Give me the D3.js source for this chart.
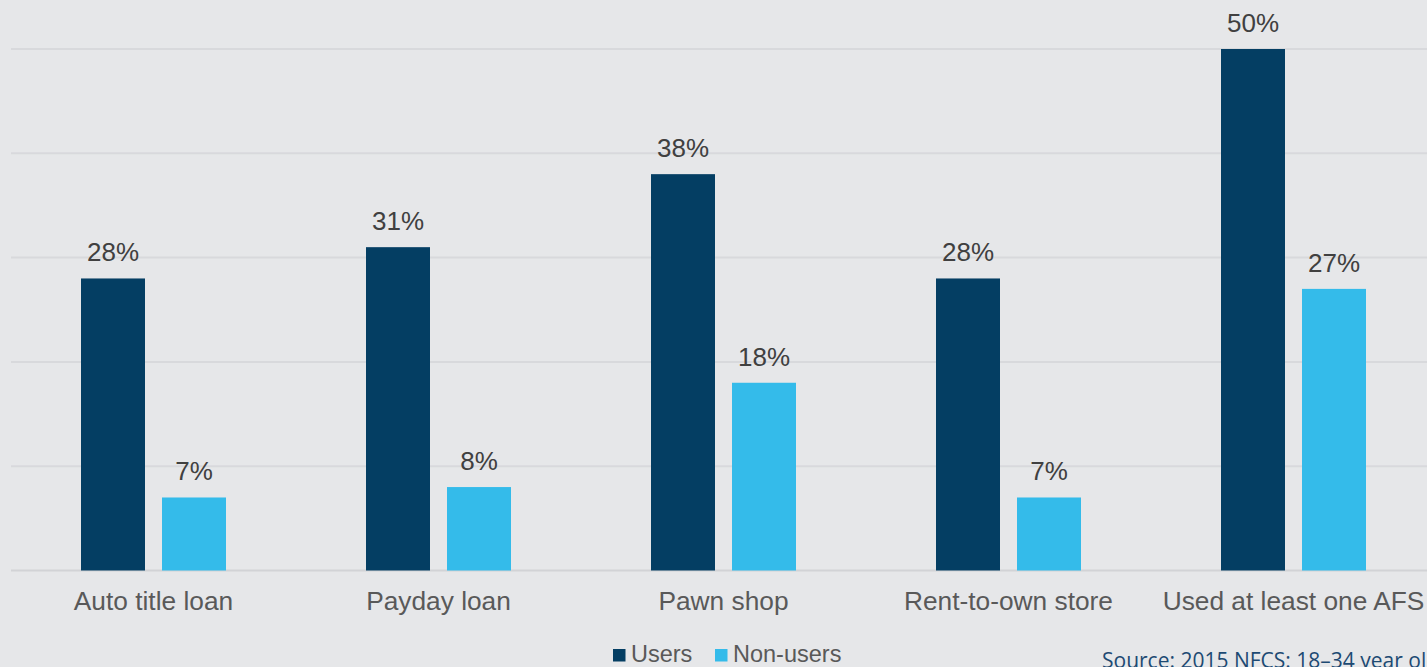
<!DOCTYPE html>
<html>
<head>
<meta charset="utf-8">
<script src="https://cdn.jsdelivr.net/npm/d3@7"></script>
<style>
  html, body { margin: 0; padding: 0; background: #e6e7e9; overflow: hidden; }
  svg { display: block; }
</style>
</head>
<body>
<svg id="chart" width="1427" height="667"></svg>
<script>
// Share of respondents by alternative financial service, users vs non-users
const categories = ["Auto title loan", "Payday loan", "Pawn shop", "Rent-to-own store", "Used at least one AFS"];
const seriesNames = ["Users", "Non-users"];
const usersValues = [28, 31, 38, 28, 50];
const nonUsersValues = [7, 8, 18, 7, 27];
const gridTicks = [0, 10, 20, 30, 40, 50];
const sourceNote = "Source: 2015 NFCS: 18–34 year olds";

const colors = { "Users": "#043e63", "Non-users": "#34bbea" };

const svg = d3.select("#chart");
const W = 1427, H = 667;
svg.append("rect").attr("width", W).attr("height", H).attr("fill", "#e6e7e9");

// Plot area runs past the right edge of the viewport
const plot = { left: 11, right: 1436, top: 49, bottom: 570.5 };

const x = d3.scaleBand().domain(categories).range([plot.left, plot.right]).paddingInner(0).paddingOuter(0);
const bandW = x.bandwidth();
const barW = bandW * 64 / 285;
const gap = bandW * 17 / 285;
const sidePad = (bandW - 2 * barW - gap) / 2;
const xs = d3.scaleOrdinal().domain(seriesNames).range([sidePad, sidePad + barW + gap]);

const y = d3.scaleLinear().domain([0, 50]).range([plot.bottom, plot.top]);

// Gridlines
svg.append("g").selectAll("line").data(gridTicks).join("line")
  .attr("x1", plot.left).attr("x2", plot.right)
  .attr("y1", d => y(d)).attr("y2", d => y(d))
  .attr("stroke", d => d === 0 ? "#d2d3d6" : "#d8d9dc")
  .attr("stroke-width", 2);

const rows = categories.map((c, i) => ({ cat: c, values: [
  { name: "Users", v: usersValues[i] },
  { name: "Non-users", v: nonUsersValues[i] }
]}));

const groups = svg.append("g").selectAll("g").data(rows).join("g")
  .attr("transform", d => `translate(${x(d.cat)},0)`);

groups.selectAll("rect").data(d => d.values).join("rect")
  .attr("x", d => xs(d.name))
  .attr("width", barW)
  .attr("y", d => y(d.v))
  .attr("height", d => y(0) - y(d.v))
  .attr("fill", d => colors[d.name]);

groups.selectAll("text.val").data(d => d.values).join("text")
  .attr("class", "val")
  .attr("x", d => xs(d.name) + barW / 2)
  .attr("y", d => y(d.v) - 17)
  .attr("text-anchor", "middle")
  .attr("font-family", "Liberation Sans, Arial, sans-serif")
  .attr("font-size", 26)
  .attr("fill", "#404040")
  .text(d => d.v + "%");

// Category axis labels
svg.append("g").selectAll("text").data(categories).join("text")
  .attr("x", d => x(d) + bandW / 2)
  .attr("y", 610)
  .attr("text-anchor", "middle")
  .attr("font-family", "Liberation Sans, Arial, sans-serif")
  .attr("font-size", 26.3)
  .attr("fill", "#595959")
  .text(d => d);

// Legend
const legendItems = [
  { name: "Users", x: 613 },
  { name: "Non-users", x: 715 }
];
const lg = svg.append("g").selectAll("g").data(legendItems).join("g")
  .attr("transform", d => `translate(${d.x},0)`);
lg.append("rect").attr("x", 0).attr("y", 649).attr("width", 12.5).attr("height", 12.5)
  .attr("fill", d => colors[d.name]);
lg.append("text").attr("x", 18).attr("y", 662)
  .attr("font-family", "Liberation Sans, Arial, sans-serif")
  .attr("font-size", 23.5)
  .attr("fill", "#595959")
  .text(d => d.name);

// Source note (continues past the right edge)
svg.append("text")
  .attr("x", 1102).attr("y", 668)
  .attr("font-family", "Open Sans, sans-serif")
  .attr("font-size", 21)
  .attr("fill", "#1d4a73")
  .text(sourceNote);
</script>
</body>
</html>
